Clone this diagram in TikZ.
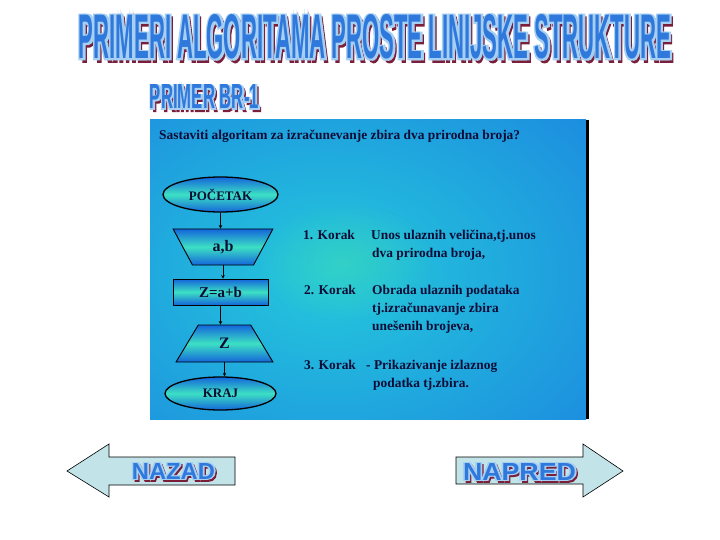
\documentclass[tikz,border=0pt]{standalone}
\usepackage{fontspec}
\setmainfont{Liberation Serif}
\newfontfamily\hdfont{Liberation Sans}
\usetikzlibrary{shapes.geometric,arrows.meta,fadings}
\tikzfading[name=softspot, inner color=transparent!0, outer color=transparent!100]
\definecolor{ftext}{HTML}{2F78DC}
\definecolor{fhalo}{HTML}{A6CFF2}
\definecolor{fred}{HTML}{7A1E3A}
\definecolor{panelblue}{HTML}{1B7FE0}
\definecolor{panelcyan}{HTML}{24C8DC}
\definecolor{panelgreen}{HTML}{3CD8B8}
\definecolor{shblue}{HTML}{1466DA}
\definecolor{shgreen}{HTML}{3CE0C4}
\definecolor{navtxt}{HTML}{0C0C36}
\definecolor{arrowfill}{HTML}{C2E4E8}
% #1 name, #2 x, #3 y, #4 width, #5 height, #6 text, #7 halo strength, #8 halo shift
\newcommand\fancyword[8]{%
  \node[inner sep=0pt,text=fred] at (#2+#8+1.2,#3+#8+1.2) {\resizebox{#4}{#5}{\hdfont\bfseries\addfontfeature{FakeBold=#7}#6}};
  \node[inner sep=0pt,text=fhalo] at (#2-#8,#3) {\resizebox{#4}{#5}{\hdfont\bfseries\addfontfeature{FakeBold=#7}#6}};
  \node[inner sep=0pt,text=fhalo] at (#2+#8,#3) {\resizebox{#4}{#5}{\hdfont\bfseries\addfontfeature{FakeBold=#7}#6}};
  \node[inner sep=0pt,text=ftext] (#1) at (#2,#3) {\resizebox{#4}{#5}{\hdfont\bfseries #6}};
}
\begin{document}
\begin{tikzpicture}[x=1pt,y=-1pt,
  fcshape/.style={draw=black, line width=0.9pt, top color=shblue, bottom color=shblue,
     middle color=shgreen, text=navtxt, inner sep=0pt},
  fcell/.style={fcshape, ellipse, line width=1.3pt, font=\bfseries\fontsize{13}{15}\selectfont},
  fctrap/.style={fcshape, trapezium, trapezium stretches=true, font=\bfseries\fontsize{16}{18}\selectfont},
  flow/.style={draw=black, line width=1pt, -{Stealth[length=3.5pt,width=3.5pt]}},
  ptext/.style={anchor=base west, inner sep=0pt, text=navtxt, font=\bfseries\fontsize{13.4}{15}\selectfont},
  navarrow/.style={draw=black, line width=0.6pt, fill=arrowfill}]
\useasboundingbox[fill=white] (0,0) rectangle (720,540);

% title and subtitle
\fancyword{title}{375}{37}{592pt}{44pt}{PRIMERI ALGORITAMA PROSTE LINIJSKE STRUKTURE}{5}{1.4}
\fancyword{subtitle}{204.5}{97}{109pt}{24pt}{PRIMER BR-1}{5}{1.1}

% panel
\begin{scope}
  \clip (150,120) rectangle (586,419);
  \fill[panelblue] (150,120) rectangle (586,419);
  \shade[inner color=panelcyan, outer color=panelblue] (330,275) ellipse (420 and 300);
  \fill[panelgreen, path fading=softspot, opacity=0.6] (345,262) ellipse (90 and 60);
\end{scope}
\fill[black] (586,120) rectangle (589,419);

\node[ptext] (question) at (159,140) {Sastaviti algoritam za izračunevanje zbira dva prirodna broja?};

% flowchart
\node[fcell, minimum width=115pt, minimum height=35pt] (start) at (220.5,194.5) {POČETAK};
\node[fctrap, trapezium left angle=64, trapezium right angle=64, shape border rotate=180,
      minimum width=100pt, minimum height=36pt] (input) at (223,247) {a,b};
\node[fcshape, rectangle, minimum width=95pt, minimum height=26pt,
      font=\bfseries\fontsize{15}{17}\selectfont] (proc) at (220.5,292) {Z=a+b};
\node[fctrap, trapezium left angle=66.6, trapezium right angle=66.6,
      minimum width=97pt, minimum height=37pt] (output) at (224.5,343.5) {Z};
\node[fcell, minimum width=111pt, minimum height=33pt] (end) at (220.5,393.5) {KRAJ};

\draw[flow] (start.south) -- (start.south |- input.north);
\draw[flow] (input.south) -- (input.south |- proc.north);
\draw[flow] (proc.south) -- (proc.south |- output.north);
\draw[flow] (output.south) -- (output.south |- end.north);

% steps
\node[ptext] (k1) at (303,239.5) {1. Korak};
\node[ptext] (k1a) at (371,239.5) {Unos ulaznih veličina,tj.unos};
\node[ptext] (k1b) at (372,257.5) {dva prirodna broja,};
\node[ptext] (k2) at (304,294) {2. Korak};
\node[ptext] (k2a) at (372,294) {Obrada ulaznih podataka};
\node[ptext] (k2b) at (372,312) {tj.izračunavanje zbira};
\node[ptext] (k2c) at (372,330) {unešenih brojeva,};
\node[ptext] (k3) at (304,369) {3. Korak};
\node[ptext] (k3a) at (366,369) {- Prikazivanje izlaznog};
\node[ptext] (k3b) at (373,387) {podatka tj.zbira.};

% navigation arrows
\draw[navarrow] (67,471) -- (109,444) -- (109,457) -- (235,457) -- (235,485) -- (109,485) -- (109,497) -- cycle;
\draw[navarrow] (456,457) -- (583,457) -- (583,444) -- (623,471) -- (583,497) -- (583,484) -- (456,484) -- cycle;
\fancyword{nazad}{173.5}{471}{83pt}{16pt}{NAZAD}{8}{0.8}
\fancyword{napred}{519.5}{471.5}{113pt}{17pt}{NAPRED}{8}{0.8}
\end{tikzpicture}
\end{document}
